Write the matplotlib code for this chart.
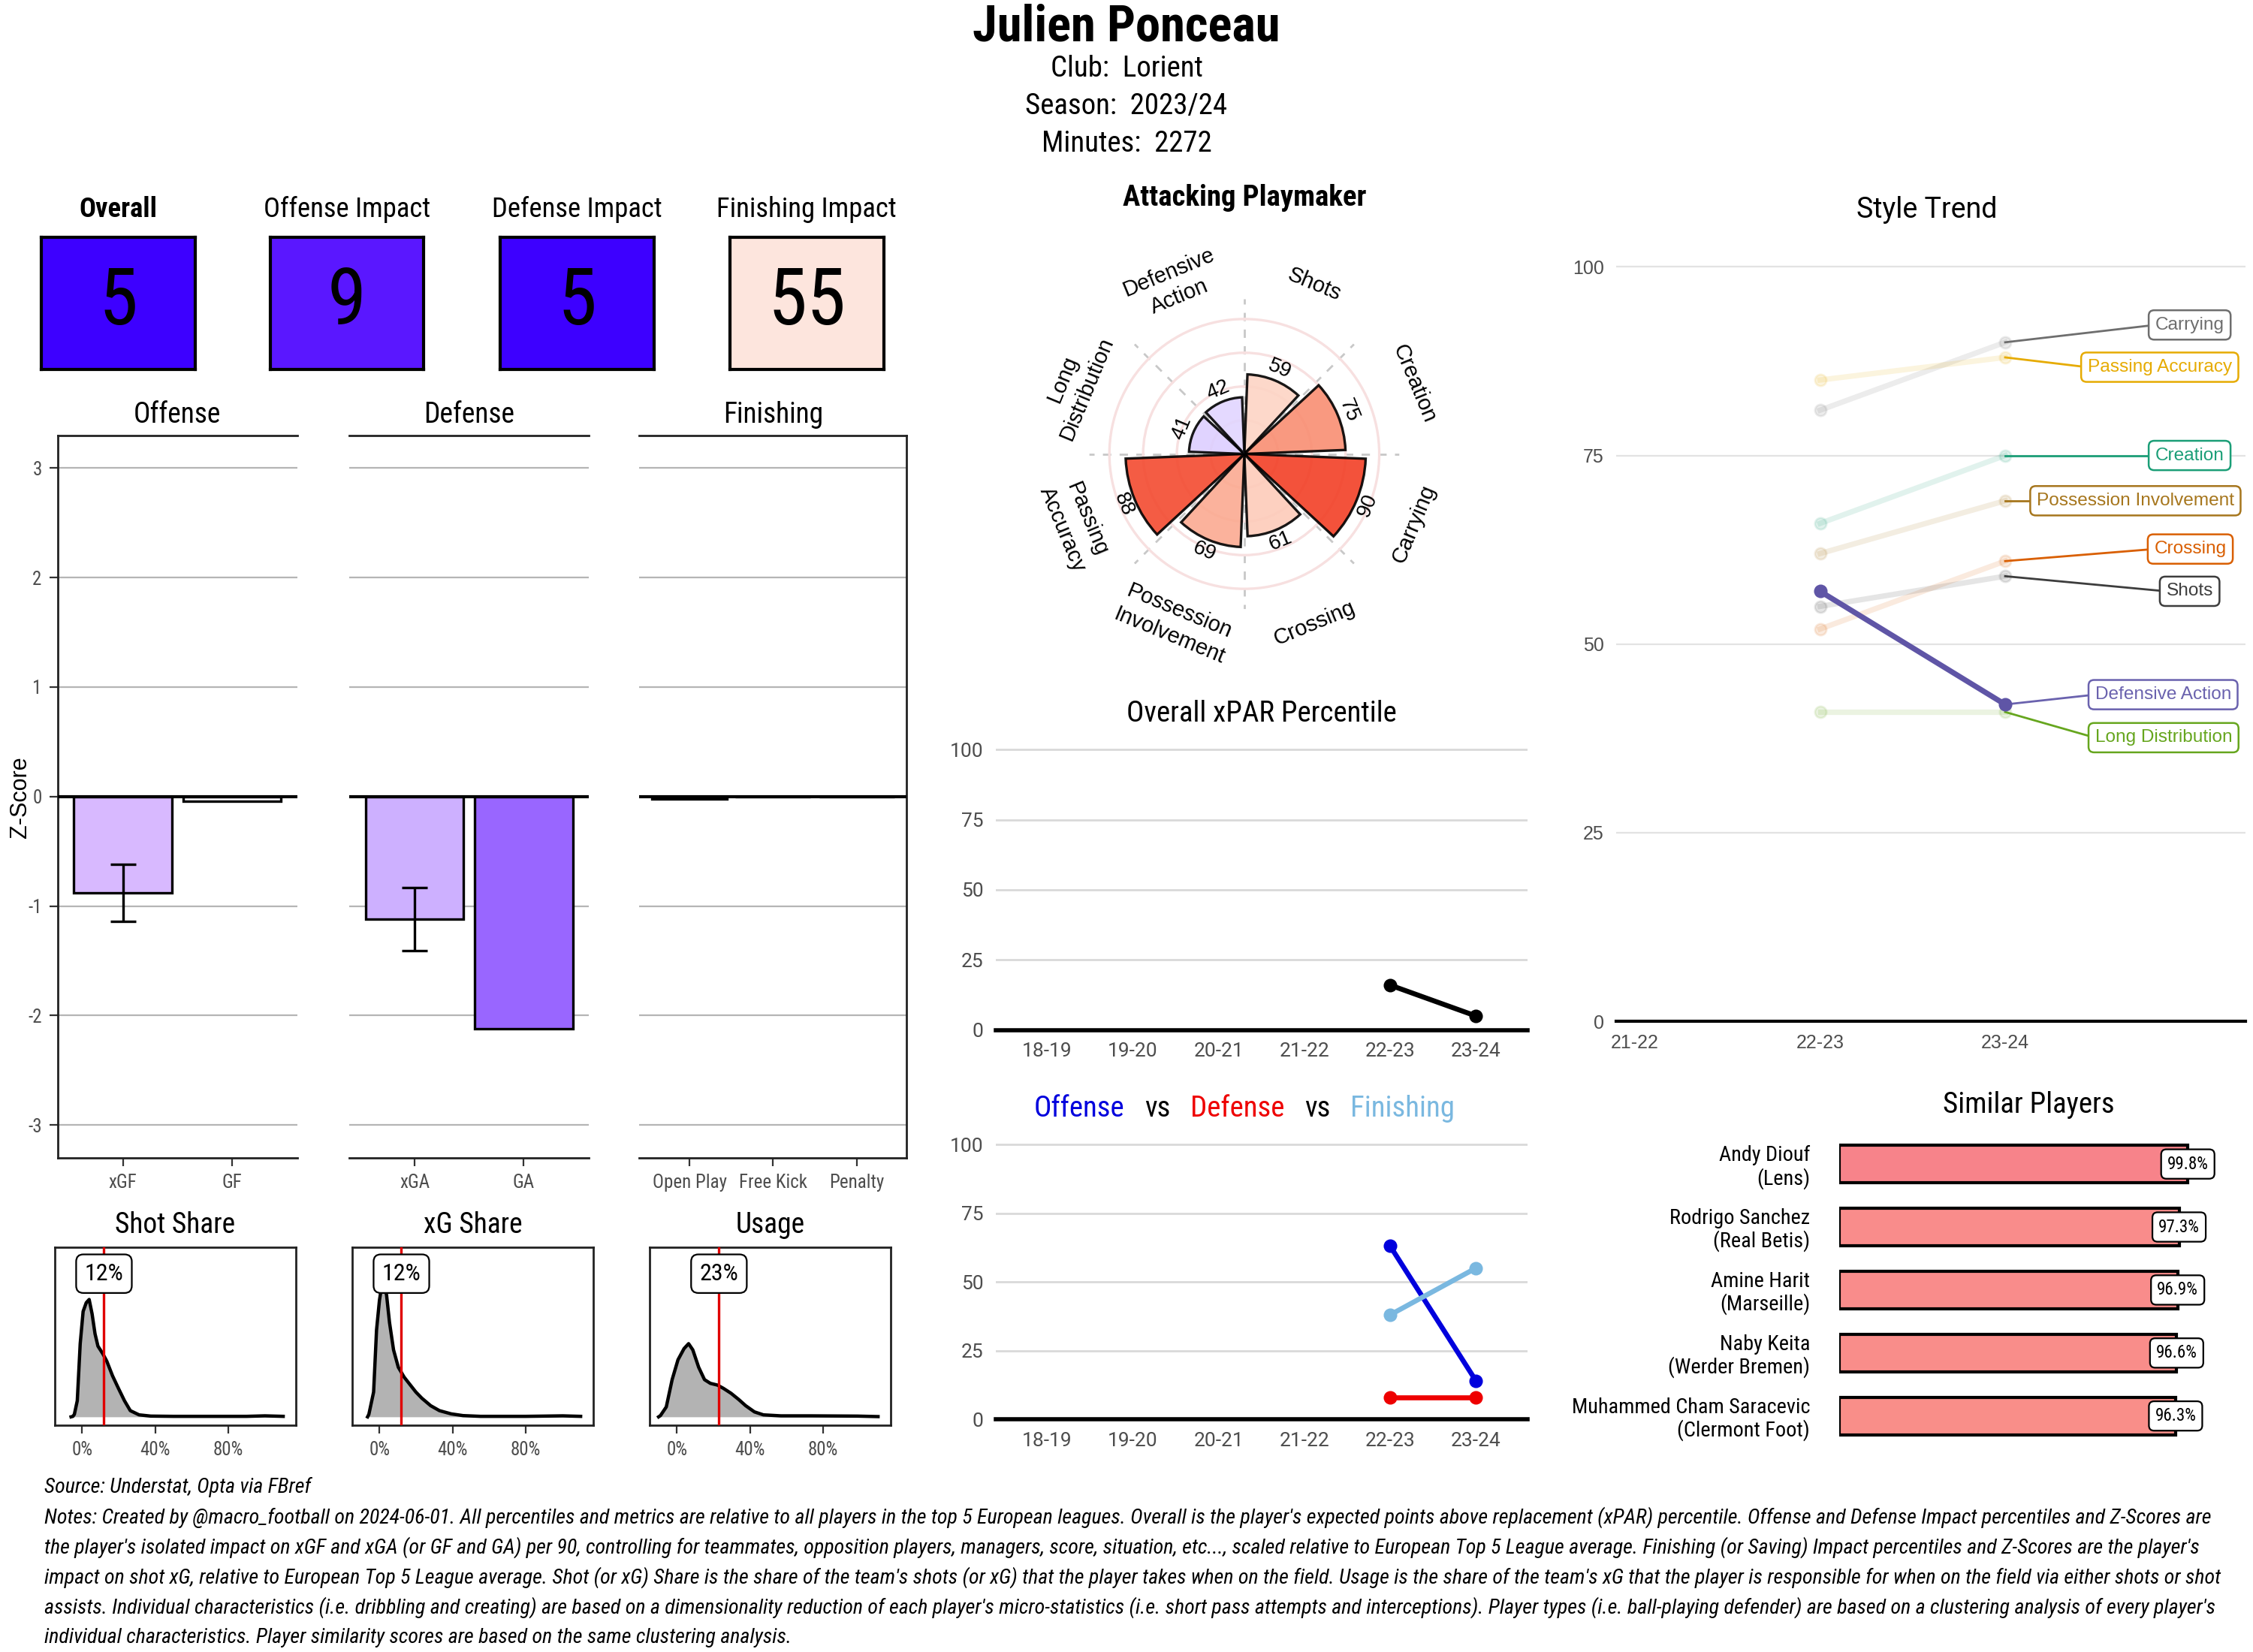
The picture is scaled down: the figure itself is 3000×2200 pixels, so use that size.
import numpy as np
import matplotlib
matplotlib.use("Agg")
import matplotlib.pyplot as plt
from matplotlib import font_manager
from matplotlib.colors import LinearSegmentedColormap

# pick fonts that exist in this sandbox
_avail = {f.name for f in font_manager.fontManager.ttflist}


def pick(*names):
    for n in names:
        if n in _avail:
            return n
    return "DejaVu Sans"


COND = pick("Roboto Condensed", "Liberation Sans Narrow", "Roboto")
SANS = pick("Roboto", "Liberation Sans", "DejaVu Sans")
ARIAL = pick("Liberation Sans", "Arimo", "Roboto")
plt.rcParams["font.family"] = [SANS, "DejaVu Sans"]

# ---------------- data ----------------
player = "Julien Ponceau"
club = "Lorient"
season = "2023/24"
minutes = 2272

box_titles = ["Overall", "Offense Impact", "Defense Impact", "Finishing Impact"]
box_values = [5, 9, 5, 55]

off_cats = ["xGF", "GF"]
off_z = [-0.88, -0.04]
xgf_ci = [-1.14, -0.62]
def_cats = ["xGA", "GA"]
def_z = [-1.12, -2.12]
xga_ci = [-1.41, -0.83]
fin_cats = ["Open Play", "Free Kick", "Penalty"]
fin_z = [-0.02, 0.0, 0.0]

# density curves (share in %, relative density)
shot_x = [-6, -5, -4.2, -2.6, -1.0, 0.6, 2.3, 3.9, 5.5, 7.1, 8.7, 11.3, 13.5, 16.7, 19.9,
          23.2, 26.4, 31.2, 37.6, 50, 70, 90, 100, 105, 110]
shot_d = [0, 0.02, 0.10, 0.65, 2.95, 4.25, 4.60, 4.73, 4.15, 3.35, 2.85, 2.55, 2.25, 1.65, 1.15,
          0.65, 0.25, 0.08, 0.03, 0.02, 0.02, 0.02, 0.04, 0.03, 0.02]
shot_player = 12

xg_x = [-6.5, -5.8, -3.2, -1.6, 0, 1.3, 2.6, 3.9, 5.5, 7.7, 10.3, 13.5, 16.7, 19.9, 23.2,
        28, 32.8, 39.2, 45.7, 55.3, 80, 100.3, 105, 110]
xg_d = [0, 0.10, 1.00, 3.50, 4.70, 5.30, 5.35, 4.90, 3.80, 2.70, 2.00, 1.60, 1.30, 1.00, 0.75,
        0.45, 0.25, 0.12, 0.05, 0.02, 0.02, 0.04, 0.03, 0.02]
xg_player = 12

usage_x = [-10, -9, -5.8, -2.6, 0.6, 3.9, 6.4, 8.7, 11.9, 15.1, 18.3, 22.2, 25.4, 29.6, 33.8,
           37.6, 42.4, 47.3, 56.9, 73, 98.7, 110]
usage_d = [0, 0.05, 0.40, 1.50, 2.30, 2.75, 2.95, 2.70, 2.00, 1.50, 1.35, 1.28, 1.15, 0.95, 0.70,
           0.45, 0.20, 0.08, 0.04, 0.04, 0.03, 0.01]
usage_player = 23

radar_title = "Attacking Playmaker"
radar_cats = ["Shots", "Creation", "Carrying", "Crossing", "Possession\nInvolvement",
              "Passing\nAccuracy", "Long\nDistribution", "Defensive\nAction"]
radar_vals = [59, 75, 90, 61, 69, 88, 41, 42]

seasons = ["18-19", "19-20", "20-21", "21-22", "22-23", "23-24"]
xpar_pct = [np.nan, np.nan, np.nan, np.nan, 16, 5]
offense_pct = [np.nan, np.nan, np.nan, np.nan, 63, 14]
defense_pct = [np.nan, np.nan, np.nan, np.nan, 8, 8]
finishing_pct = [np.nan, np.nan, np.nan, np.nan, 38, 55]

trend_seasons = ["21-22", "22-23", "23-24"]
trend_names = ["Carrying", "Passing Accuracy", "Creation", "Possession Involvement",
               "Crossing", "Shots", "Defensive Action", "Long Distribution"]
trend_2223 = [81, 85, 66, 62, 52, 55, 57, 41]
trend_2324 = [90, 88, 75, 69, 61, 59, 42, 41]
trend_highlight = "Defensive Action"

sim_names = ["Andy Diouf", "Rodrigo Sanchez", "Amine Harit", "Naby Keita", "Muhammed Cham Saracevic"]
sim_clubs = ["Lens", "Real Betis", "Marseille", "Werder Bremen", "Clermont Foot"]
sim_scores = [99.8, 97.3, 96.9, 96.6, 96.3]

source_text = "Source: Understat, Opta via FBref"
notes_lines = [
    "Notes: Created by @macro_football on 2024-06-01. All percentiles and metrics are relative to all players in the top 5 European leagues. Overall is the player's expected points above replacement (xPAR) percentile. Offense and Defense Impact percentiles and Z-Scores are",
    "the player's isolated impact on xGF and xGA (or GF and GA) per 90, controlling for teammates, opposition players, managers, score, situation, etc..., scaled relative to European Top 5 League average. Finishing (or Saving) Impact percentiles and Z-Scores are the player's",
    "impact on shot xG, relative to European Top 5 League average. Shot (or xG) Share is the share of the team's shots (or xG) that the player takes when on the field. Usage is the share of the team's xG that the player is responsible for when on the field via either shots or shot",
    "assists. Individual characteristics (i.e. dribbling and creating) are based on a dimensionality reduction of each player's micro-statistics (i.e. short pass attempts and interceptions). Player types (i.e. ball-playing defender) are based on a clustering analysis of every player's",
    "individual characteristics. Player similarity scores are based on the same clustering analysis.",
]

# ---------------- styles ----------------
box_colors = ["#3d00ff", "#5a17ff", "#3d00ff", "#fde5dd"]
off_colors = ["#d8b9ff", "#fbf8ff"]
def_colors = ["#cdb0ff", "#9966ff"]
fin_colors = ["#fdfcff", "#ffffff", "#ffffff"]
radar_cmap = LinearSegmentedColormap.from_list(
    "pct", [(0.0, "#6a1bff"), (0.25, "#a37dff"), (0.5, "#ffffff"), (0.6, "#fdd0c0"),
            (0.7, "#fba68c"), (0.8, "#f7785a"), (0.9, "#f24027"), (1.0, "#e81f0c")])
trend_colors = ["#6e6e6e", "#e6ab02", "#1b9e77", "#a6761d", "#d95f02", "#3d3d3d", "#6a62ae", "#66a61e"]
# label anchor (text start x, y) for the repelled Style Trend labels
trend_label_x = [2.81, 2.445, 2.81, 2.17, 2.805, 2.87, 2.485, 2.485]
trend_label_y = [92.3, 86.7, 75.0, 69.0, 62.6, 57.0, 43.3, 37.6]
sim_colors = ["#f7838a", "#f98c8b", "#f98c8b", "#f98d8a", "#f98e89"]
GRID = "#d9d9d9"
TICK = "#4d4d4d"

fig = plt.figure(figsize=(15, 11), dpi=200)
W, H = 1568.0, 1150.0


def rect(x0, y0, x1, y1):
    # reference-layout pixels -> figure fraction
    return [x0 / W, 1 - y1 / H, (x1 - x0) / W, (y1 - y0) / H]


def fx(x):
    return x / W


def fy(y):
    return 1 - y / H


# ---------------- header ----------------
fig.text(0.5, fy(19), player, ha="center", va="center", fontsize=24, fontweight="bold", family=COND)
fig.text(0.5, fy(48), f"Club:  {club}", ha="center", va="center", fontsize=14, family=COND)
fig.text(0.5, fy(74), f"Season:  {season}", ha="center", va="center", fontsize=14, family=COND)
fig.text(0.5, fy(100), f"Minutes:  {minutes}", ha="center", va="center", fontsize=14, family=COND)

# ---------------- impact boxes ----------------
for i, (t, v) in enumerate(zip(box_titles, box_values)):
    x0 = [29, 188, 348, 508][i]
    ax = fig.add_axes(rect(x0, 165, x0 + 107, 257))
    ax.set_facecolor(box_colors[i])
    ax.set_xticks([])
    ax.set_yticks([])
    for s in ax.spines.values():
        s.set_linewidth(1.5)
    ax.text(0.5, 0.5, str(v), ha="center", va="center", fontsize=38, family=COND, transform=ax.transAxes)
    fig.text(fx(x0 + 53.5), fy(146), t, ha="center", va="center", fontsize=13.2, family=COND,
             fontweight="bold" if i == 0 else "normal")


# ---------------- z-score bars ----------------
def zpanel(r, cats, vals, colors, title, ci=None, left=False, right=False):
    ax = fig.add_axes(r)
    n = len(cats)
    ax.bar(range(n), vals, width=0.9, color=colors, edgecolor="black", linewidth=1.2, zorder=3)
    if ci is not None:
        ax.errorbar(0, vals[0], yerr=[[vals[0] - ci[0]], [ci[1] - vals[0]]], color="black",
                    capsize=6, elinewidth=1.2, capthick=1.2, zorder=5)
    ax.axhline(0, color="black", lw=1.5, zorder=4)
    ax.set_xlim(-0.6, n - 0.4)
    ax.set_ylim(-3.3, 3.3)
    ax.set_yticks(range(-3, 4))
    ax.yaxis.grid(True, color="#b5b5b5", lw=0.8)
    ax.set_axisbelow(True)
    ax.set_xticks(range(n))
    ax.set_xticklabels(cats, fontsize=9, family=COND, color=TICK)
    ax.tick_params(axis="x", length=4, color="#333333")
    if left:
        ax.set_yticklabels([str(k) for k in range(-3, 4)], fontsize=9, family=COND, color=TICK)
        ax.tick_params(axis="y", length=4, color="#333333")
    else:
        ax.tick_params(axis="y", length=0, labelleft=False)
    ax.spines["left"].set_visible(left)
    ax.spines["right"].set_visible(right)
    for s in ax.spines.values():
        s.set_color("#222222")
        s.set_linewidth(1)
    cx = r[0] + r[2] / 2
    fig.text(cx, fy(289), title, ha="center", va="center", fontsize=13.5, family=COND)
    return ax


zpanel(rect(40, 303, 207, 806), off_cats, off_z, off_colors, "Offense", ci=xgf_ci, left=True)
zpanel(rect(243, 303, 410, 806), def_cats, def_z, def_colors, "Defense", ci=xga_ci)
zpanel(rect(445, 303, 631, 806), fin_cats, fin_z, fin_colors, "Finishing", right=True)
fig.text(fx(14), fy(555), "Z-Score", rotation=90, ha="center", va="center", fontsize=11, family=ARIAL)

# ---------------- density panels ----------------
dens = [("Shot Share", shot_x, shot_d, shot_player, 38),
        ("xG Share", xg_x, xg_d, xg_player, 245),
        ("Usage", usage_x, usage_d, usage_player, 452)]
for title, xs, ds, p, x0 in dens:
    ax = fig.add_axes(rect(x0, 868, x0 + 168, 992))
    xs = np.array(xs) / 100
    ax.fill_between(xs, ds, color="#b3b3b3", lw=0, zorder=2)
    ax.plot(xs, ds, color="black", lw=1.6, zorder=3)
    ax.axvline(p / 100, color="#e00000", lw=1.2, zorder=4)
    ax.text(p / 100, 5.77, f"{p}%", ha="center", va="center", fontsize=11.5, family=COND, zorder=6,
            bbox=dict(boxstyle="round,pad=0.35,rounding_size=0.3", fc="white", ec="black", lw=0.8))
    ax.set_xlim(-0.15, 1.17)
    ax.set_ylim(-0.33, 6.85)
    ax.set_yticks([])
    ax.set_xticks([0, 0.4, 0.8])
    ax.set_xticklabels(["0%", "40%", "80%"], fontsize=9, family=COND, color=TICK)
    ax.tick_params(axis="x", length=4, color="#333333")
    for s in ax.spines.values():
        s.set_linewidth(1)
        s.set_color("#222222")
    fig.text(fx(x0 + 84), fy(853), title, ha="center", va="center", fontsize=13.5, family=COND)

# ---------------- radar ----------------
rax = fig.add_axes(rect(866 - 108, 316 - 108, 866 + 108, 316 + 108), projection="polar")
rax.set_theta_zero_location("N")
rax.set_theta_direction(-1)
ang = 22.5 + 45 * np.arange(len(radar_vals))
th = np.deg2rad(ang)
rax.bar(th, radar_vals, width=np.deg2rad(45 * 0.9), color=radar_cmap(np.array(radar_vals) / 100),
        edgecolor="black", linewidth=1.2, alpha=0.9, zorder=3)
rax.set_ylim(0, 115)
rax.set_yticks([25, 50, 75, 100])
rax.set_yticklabels([])
rax.set_xticks(np.deg2rad(np.arange(0, 360, 45)))
rax.set_xticklabels([])
rax.yaxis.grid(True, color="#f7e0e0", lw=1.2)
rax.xaxis.grid(True, color="#c8c8c8", lw=1, ls=(0, (4, 4)))
rax.set_axisbelow(True)
rax.spines["polar"].set_visible(False)


def tang_rot(a):
    r = -a
    while r <= -90:
        r += 180
    while r > 90:
        r -= 180
    return r


for a, t, v, lab in zip(ang, th, radar_vals, radar_cats):
    rax.text(t, v + 9, str(v), ha="center", va="center", rotation=tang_rot(a), rotation_mode="anchor",
             fontsize=10, family=ARIAL, clip_on=False, zorder=6)
    rax.text(t, 136, lab, ha="center", va="center", rotation=tang_rot(a), rotation_mode="anchor",
             fontsize=10.5, family=ARIAL, clip_on=False, linespacing=1.3)
fig.text(fx(866), fy(138), radar_title, ha="center", va="center", fontsize=14, fontweight="bold", family=COND)


# ---------------- season line charts ----------------
def season_axes(r):
    ax = fig.add_axes(r)
    ax.set_xlim(-0.6, 5.6)
    ax.set_ylim(0, 104)
    ax.set_yticks([0, 25, 50, 75, 100])
    ax.set_yticklabels(["0", "25", "50", "75", "100"], fontsize=9.5, color=TICK)
    ax.set_xticks(range(len(seasons)))
    ax.set_xticklabels(seasons, fontsize=9.5, color=TICK)
    ax.tick_params(length=0, pad=6)
    ax.yaxis.grid(True, color=GRID, lw=1)
    ax.set_axisbelow(True)
    for s in ["left", "right", "top"]:
        ax.spines[s].set_visible(False)
    ax.spines["bottom"].set_linewidth(2)
    ax.spines["bottom"].set_color("black")
    return ax


ax = season_axes(rect(693, 514, 1063, 717))
ax.plot(range(len(seasons)), xpar_pct, color="black", lw=2.4, marker="o", ms=5.5, zorder=4, clip_on=False)
fig.text(fx(878), fy(497), "Overall xPAR Percentile", ha="center", va="center", fontsize=14, family=COND)

ax = season_axes(rect(693, 789, 1063, 988))
ax.plot(range(len(seasons)), offense_pct, color="#0000dd", lw=2.4, marker="o", ms=5.5, zorder=4, clip_on=False)
ax.plot(range(len(seasons)), defense_pct, color="#ee0000", lw=2.4, marker="o", ms=5.5, zorder=4, clip_on=False)
ax.plot(range(len(seasons)), finishing_pct, color="#7ab8e0", lw=2.4, marker="o", ms=5.5, zorder=4, clip_on=False)

pieces = [("Offense", "#0000dd"), ("vs", "black"), ("Defense", "#ee0000"), ("vs", "black"), ("Finishing", "#7ab8e0")]
rend = fig.canvas.get_renderer()
tt = [fig.text(0, fy(772), s, color=c, ha="left", va="center", fontsize=14, family=COND) for s, c in pieces]
wd = [t.get_window_extent(rend).width / fig.bbox.width for t in tt]
gap = 14 / W
xx = fx(866) - (sum(wd) + gap * (len(wd) - 1)) / 2
for t, w in zip(tt, wd):
    t.set_x(xx)
    xx += w + gap

# ---------------- style trend ----------------
ax = fig.add_axes(rect(1125, 170, 1563, 711))
ax.set_xlim(-0.1, 3.3)
ax.set_ylim(0, 103)
for i, name in enumerate(trend_names):
    c = trend_colors[i]
    yv = [np.nan, trend_2223[i], trend_2324[i]]
    if name == trend_highlight:
        ax.plot(range(3), yv, color="#5f55a6", lw=2.6, marker="o", ms=5.5, zorder=5)
    else:
        ax.plot(range(3), yv, color=c, lw=2.6, marker="o", ms=5.5, alpha=0.13, zorder=3)
    ax.plot([2, trend_label_x[i]], [trend_2324[i], trend_label_y[i]], color=c, lw=1, zorder=4)
    ax.text(trend_label_x[i], trend_label_y[i], name, color=c, ha="left", va="center", fontsize=8.8,
            family=ARIAL, zorder=6,
            bbox=dict(boxstyle="round,pad=0.35,rounding_size=0.3", fc="white", ec=c, lw=0.9))
ax.set_yticks([0, 25, 50, 75, 100])
ax.set_yticklabels(["0", "25", "50", "75", "100"], fontsize=9, color=TICK, family=ARIAL)
ax.set_xticks(range(3))
ax.set_xticklabels(trend_seasons, fontsize=9, color=TICK, family=ARIAL)
ax.tick_params(length=0, pad=6)
ax.yaxis.grid(True, color="#e3e3e3", lw=0.8)
ax.set_axisbelow(True)
for s in ["left", "right", "top"]:
    ax.spines[s].set_visible(False)
ax.spines["bottom"].set_linewidth(1.5)
fig.text(fx(1341), fy(146), "Style Trend", ha="center", va="center", fontsize=13.5, family=SANS)

# ---------------- similar players ----------------
ax = fig.add_axes(rect(1280, 784, 1545, 1012))
ypos = np.arange(len(sim_scores))
ax.barh(ypos, sim_scores, height=0.6, color=sim_colors, edgecolor="black", linewidth=1.5, zorder=3)
for y, v in zip(ypos, sim_scores):
    ax.text(v, y, f"{v}%", ha="center", va="center", fontsize=8.3, family=COND, zorder=5,
            bbox=dict(boxstyle="round,pad=0.35,rounding_size=0.3", fc="white", ec="black", lw=0.8))
ax.set_xlim(0, 109)
ax.set_ylim(len(sim_scores) - 0.4, -0.6)
ax.set_xticks([])
ax.set_yticks(ypos)
ax.set_yticklabels([f"{n}\n({c})" for n, c in zip(sim_names, sim_clubs)], fontsize=10.2, family=COND,
                   linespacing=1.1)
ax.tick_params(axis="y", length=0, pad=14)
for s in ax.spines.values():
    s.set_visible(False)
fig.text(fx(1412), fy(769), "Similar Players", ha="center", va="center", fontsize=14, family=COND)

# ---------------- footer notes ----------------
foot = [fig.text(fx(31), fy(1035), source_text, ha="left", va="center", fontsize=11, style="italic", family=COND)]
for k, line in enumerate(notes_lines):
    foot.append(fig.text(fx(31), fy(1056 + 21 * k), line, ha="left", va="center", fontsize=11,
                         style="italic", family=COND))
maxw = max(t.get_window_extent(rend).width for t in foot)
target = (1548 - 31) / W * fig.bbox.width
fs = 11 * min(1.0, target / maxw)
for t in foot:
    t.set_fontsize(fs)

fig.savefig("out.png", dpi=200, facecolor="white")
